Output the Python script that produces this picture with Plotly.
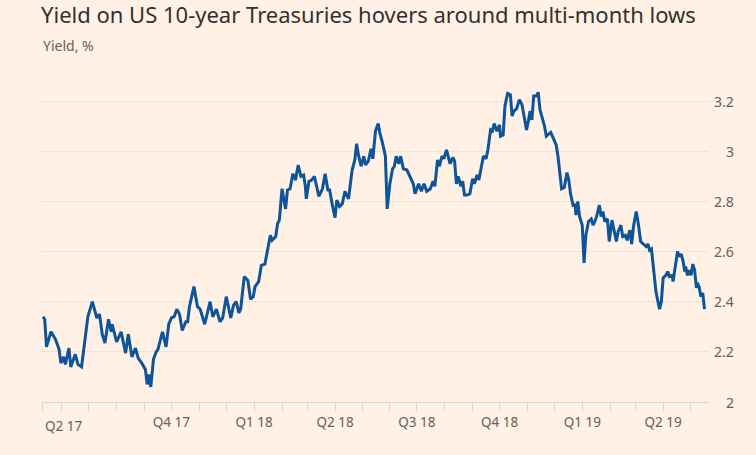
import plotly.graph_objects as go

# US 10-year Treasury yield, %
dates = [
    '2017-05-11', '2017-05-13', '2017-05-15', '2017-05-20', '2017-05-25', '2017-05-29',
    '2017-05-31', '2017-06-03', '2017-06-05', '2017-06-09', '2017-06-11', '2017-06-16',
    '2017-06-19', '2017-06-23', '2017-06-30', '2017-07-05', '2017-07-10', '2017-07-13',
    '2017-07-16', '2017-07-19', '2017-07-23', '2017-07-26', '2017-07-27', '2017-08-01',
    '2017-08-06', '2017-08-11', '2017-08-14', '2017-08-18', '2017-08-22', '2017-08-25',
    '2017-08-29', '2017-09-02', '2017-09-04', '2017-09-06', '2017-09-08', '2017-09-11',
    '2017-09-14', '2017-09-16', '2017-09-21', '2017-09-25', '2017-09-28', '2017-10-01',
    '2017-10-04', '2017-10-07', '2017-10-10', '2017-10-13', '2017-10-17', '2017-10-19',
    '2017-10-21', '2017-10-26', '2017-10-30', '2017-11-02', '2017-11-07', '2017-11-13',
    '2017-11-16', '2017-11-20', '2017-11-24', '2017-11-27', '2017-12-01', '2017-12-04',
    '2017-12-06', '2017-12-09', '2017-12-12', '2017-12-15', '2017-12-17', '2017-12-21',
    '2017-12-25', '2017-12-28', '2017-12-31', '2018-01-02', '2018-01-06', '2018-01-09',
    '2018-01-13', '2018-01-19', '2018-01-21', '2018-01-25', '2018-01-27', '2018-01-29',
    '2018-02-01', '2018-02-05', '2018-02-07', '2018-02-10', '2018-02-13', '2018-02-16',
    '2018-02-19', '2018-02-22', '2018-02-25', '2018-02-27', '2018-02-28', '2018-03-03',
    '2018-03-06', '2018-03-09', '2018-03-11', '2018-03-14', '2018-03-18', '2018-03-21',
    '2018-03-24', '2018-03-26', '2018-03-29', '2018-04-01', '2018-04-03', '2018-04-06',
    '2018-04-09', '2018-04-12', '2018-04-16', '2018-04-20', '2018-04-23', '2018-04-25',
    '2018-04-27', '2018-04-30', '2018-05-03', '2018-05-05', '2018-05-08', '2018-05-11',
    '2018-05-13', '2018-05-16', '2018-05-19', '2018-05-21', '2018-05-24', '2018-05-27',
    '2018-05-29', '2018-06-01', '2018-06-04', '2018-06-06', '2018-06-08', '2018-06-11',
    '2018-06-13', '2018-06-16', '2018-06-20', '2018-06-24', '2018-06-27', '2018-06-29',
    '2018-07-03', '2018-07-06', '2018-07-09', '2018-07-12', '2018-07-16', '2018-07-19',
    '2018-07-21', '2018-07-24', '2018-07-26', '2018-07-29', '2018-07-31', '2018-08-03',
    '2018-08-05', '2018-08-07', '2018-08-10', '2018-08-12', '2018-08-14', '2018-08-16',
    '2018-08-19', '2018-08-21', '2018-08-23', '2018-08-26', '2018-08-29', '2018-09-01',
    '2018-09-03', '2018-09-06', '2018-09-08', '2018-09-11', '2018-09-13', '2018-09-16',
    '2018-09-18', '2018-09-21', '2018-09-23', '2018-09-25', '2018-09-28', '2018-10-01',
    '2018-10-02', '2018-10-05', '2018-10-07', '2018-10-10', '2018-10-13', '2018-10-15',
    '2018-10-17', '2018-10-20', '2018-10-23', '2018-10-26', '2018-10-28', '2018-10-31',
    '2018-11-02', '2018-11-04', '2018-11-06', '2018-11-08', '2018-11-11', '2018-11-13',
    '2018-11-15', '2018-11-17', '2018-11-20', '2018-11-22', '2018-11-24', '2018-11-27',
    '2018-11-30', '2018-12-03', '2018-12-05', '2018-12-07', '2018-12-09', '2018-12-12',
    '2018-12-15', '2018-12-17', '2018-12-19', '2018-12-22', '2018-12-24', '2018-12-25',
    '2018-12-27', '2018-12-29', '2019-01-01', '2019-01-02', '2019-01-03', '2019-01-05',
    '2019-01-08', '2019-01-11', '2019-01-13', '2019-01-15', '2019-01-17', '2019-01-20',
    '2019-01-22', '2019-01-24', '2019-01-26', '2019-01-29', '2019-01-31', '2019-02-03',
    '2019-02-05', '2019-02-08', '2019-02-10', '2019-02-13', '2019-02-15', '2019-02-18',
    '2019-02-20', '2019-02-23', '2019-02-25', '2019-02-27', '2019-03-02', '2019-03-04',
    '2019-03-07', '2019-03-10', '2019-03-13', '2019-03-15', '2019-03-17', '2019-03-19',
    '2019-03-21', '2019-03-24', '2019-03-26', '2019-03-28', '2019-03-30', '2019-04-01',
    '2019-04-04', '2019-04-06', '2019-04-08', '2019-04-11', '2019-04-12', '2019-04-15',
    '2019-04-17', '2019-04-19', '2019-04-21', '2019-04-23', '2019-04-25', '2019-04-26',
    '2019-04-28', '2019-04-30', '2019-05-02', '2019-05-04', '2019-05-06', '2019-05-08',
    '2019-05-09', '2019-05-11', '2019-05-13', '2019-05-15', '2019-05-17',
]
yields = [
    2.34, 2.33, 2.22, 2.28, 2.25, 2.21,
    2.155, 2.18, 2.15, 2.215, 2.14, 2.19,
    2.15, 2.14, 2.34, 2.40, 2.335, 2.35,
    2.27, 2.235, 2.33, 2.28, 2.31, 2.24,
    2.28, 2.195, 2.27, 2.18, 2.215, 2.175,
    2.155, 2.13, 2.07, 2.11, 2.06, 2.17,
    2.20, 2.21, 2.28, 2.22, 2.31, 2.335,
    2.34, 2.37, 2.35, 2.285, 2.32, 2.32,
    2.38, 2.46, 2.38, 2.37, 2.31, 2.40,
    2.34, 2.37, 2.32, 2.335, 2.42, 2.36,
    2.335, 2.385, 2.40, 2.355, 2.37, 2.50,
    2.485, 2.41, 2.42, 2.46, 2.48, 2.545,
    2.55, 2.665, 2.645, 2.66, 2.71, 2.725,
    2.85, 2.77, 2.845, 2.85, 2.91, 2.885,
    2.945, 2.90, 2.905, 2.86, 2.81, 2.88,
    2.885, 2.90, 2.865, 2.82, 2.85, 2.91,
    2.845, 2.845, 2.785, 2.735, 2.805, 2.78,
    2.79, 2.84, 2.81, 2.925, 2.965, 3.03,
    2.985, 2.94, 2.98, 2.945, 2.96, 3.01,
    2.97, 3.08, 3.11, 3.07, 3.03, 2.98,
    2.77, 2.87, 2.93, 2.94, 2.98, 2.95,
    2.98, 2.93, 2.925, 2.89, 2.87, 2.83,
    2.87, 2.84, 2.87, 2.84, 2.85, 2.88,
    2.86, 2.965, 2.94, 2.98, 2.97, 3.005,
    2.98, 2.95, 2.975, 2.96, 2.87, 2.90,
    2.86, 2.88, 2.825, 2.825, 2.83, 2.89,
    2.87, 2.905, 2.885, 2.945, 2.98, 2.97,
    3.005, 3.085, 3.08, 3.11, 3.08, 3.105,
    3.06, 3.065, 3.18, 3.23, 3.225, 3.14,
    3.16, 3.17, 3.205, 3.185, 3.15, 3.085,
    3.12, 3.16, 3.125, 3.22, 3.22, 3.235,
    3.165, 3.14, 3.10, 3.06, 3.065, 3.075,
    3.05, 3.025, 2.98, 2.91, 2.85, 2.855,
    2.915, 2.885, 2.83, 2.78, 2.79, 2.745,
    2.80, 2.74, 2.705, 2.63, 2.555, 2.665,
    2.72, 2.73, 2.705, 2.72, 2.74, 2.785,
    2.74, 2.76, 2.72, 2.73, 2.64, 2.725,
    2.69, 2.64, 2.68, 2.705, 2.66, 2.665,
    2.645, 2.685, 2.63, 2.70, 2.76, 2.72,
    2.64, 2.63, 2.62, 2.63, 2.605, 2.61,
    2.54, 2.44, 2.405, 2.37, 2.40, 2.495,
    2.505, 2.52, 2.50, 2.505, 2.48, 2.56,
    2.60, 2.58, 2.59, 2.565, 2.52, 2.54,
    2.505, 2.525, 2.505, 2.55, 2.525, 2.455,
    2.475, 2.46, 2.42, 2.435, 2.37,
]

# axis ticks: one at the start of the data, then every month
month_ticks = ['2017-05-11'] + [
    '%d-%02d-01' % (y, m)
    for y in (2017, 2018, 2019) for m in range(1, 13)
    if '2017-06' <= '%d-%02d' % (y, m) <= '2019-05'
]
quarter_labels = {
    '2017-10-01': 'Q4 17', '2018-01-01': 'Q1 18', '2018-04-01': 'Q2 18',
    '2018-07-01': 'Q3 18', '2018-10-01': 'Q4 18', '2019-01-01': 'Q1 19',
    '2019-04-01': 'Q2 19',
}
y_ticks = [2, 2.2, 2.4, 2.6, 2.8, 3, 3.2]

bg = '#FFF1E5'
text_dark = '#33302E'
text_grey = '#66605C'
font = 'Noto Sans'

fig = go.Figure()
fig.add_trace(
    go.Scatter(
        x=dates,
        y=yields,
        mode='lines',
        line=dict(color='#0F5499', width=3),
        hoverinfo='skip',
    )
)

fig.update_xaxes(
    type='date',
    range=['2017-05-10', '2019-05-22'],
    tickvals=month_ticks,
    ticktext=[quarter_labels.get(d, '') for d in month_ticks],
    ticks='outside',
    ticklen=8,
    tickcolor='#DCD2C8',
    showline=True,
    linecolor='#DCD2C8',
    linewidth=1,
    showgrid=False,
    zeroline=False,
    tickfont=dict(family=font, size=13.5, color=text_grey),
)
fig.update_yaxes(
    range=[2, 3.26],
    tickvals=y_ticks,
    showticklabels=False,
    showgrid=True,
    gridcolor='#EDE2D7',
    gridwidth=1,
    zeroline=False,
)

annotations = [
    # first period label sits flush with the start of the axis
    dict(text='Q2 17', x='2017-05-11', xref='x', xanchor='left',
         y=0, yref='paper', yanchor='top', yshift=-13,
         showarrow=False, font=dict(family=font, size=13.5, color=text_grey)),
    dict(text='Yield, %', x=-0.0015, xref='paper', xanchor='left',
         y=1.127, yref='paper', yanchor='middle',
         showarrow=False, font=dict(family=font, size=14, color=text_grey)),
]
for v in y_ticks:
    annotations.append(
        dict(text='%g' % v, x=1, xref='paper', xanchor='right', xshift=27,
             y=v, yref='y', yanchor='middle',
             showarrow=False, font=dict(family=font, size=14, color=text_grey))
    )

fig.update_layout(
    width=756, height=455,
    paper_bgcolor=bg,
    plot_bgcolor=bg,
    margin=dict(l=42, r=47, t=86, b=53),
    showlegend=False,
    title=dict(
        text='Yield on US 10-year Treasuries hovers around multi-month lows',
        x=41 / 756, xref='container', xanchor='left',
        y=1 - 15 / 455, yref='container', yanchor='middle',
        font=dict(family=font, size=22, color=text_dark),
    ),
    annotations=annotations,
)

# drop the browser's default page margin so the figure sits at 0,0
fig.write_html(
    'out.html',
    config={'displayModeBar': False},
    post_script="document.body.style.margin='0';",
)
